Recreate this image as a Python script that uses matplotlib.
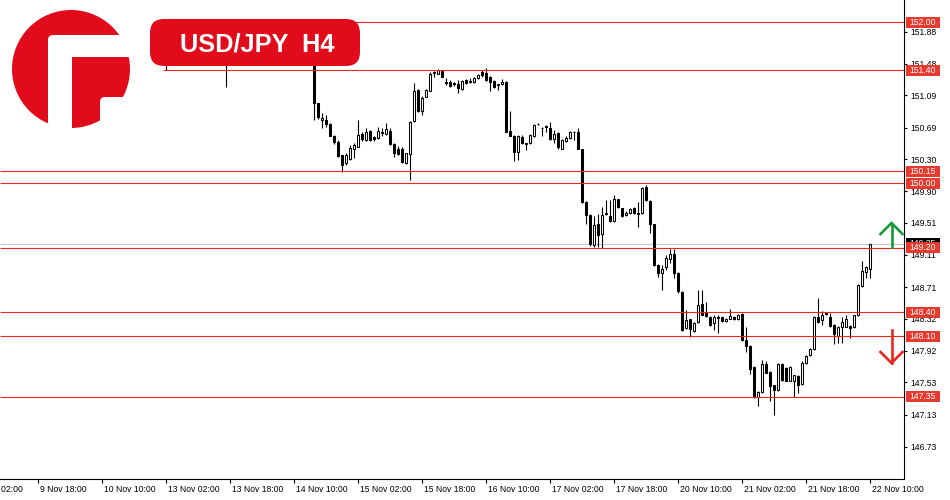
import numpy as np
import matplotlib
matplotlib.use("Agg")
import matplotlib.pyplot as plt
from matplotlib import transforms
from matplotlib.patches import Rectangle, Circle, FancyBboxPatch
from matplotlib.lines import Line2D

plt.rcParams['font.family'] = ['Liberation Sans', 'DejaVu Sans']

# ---------------- data (H1 bars, index 0 = first fully visible bar) ----------------
opens = [151.47, 150.99, 150.78, 150.79, 150.74, 150.59, 150.51, 150.35, 150.25, 150.30,
         150.42, 150.45, 150.61, 150.54, 150.65, 150.57, 150.56, 150.64, 150.61, 150.65,
         150.49, 150.43, 150.42, 150.25, 150.36, 150.77, 151.16, 150.90, 151.07, 151.15,
         151.37, 151.36, 151.39, 151.26, 151.26, 151.24, 151.23, 151.17, 151.28, 151.26,
         151.25, 151.30, 151.38, 151.37, 151.32, 151.27, 151.22, 151.23, 151.25, 150.65,
         150.59, 150.39, 150.57, 150.50, 150.50, 150.59, 150.73, 150.69, 150.71, 150.68,
         150.55, 150.62, 150.43, 150.52, 150.56, 150.63, 150.64, 150.42, 149.77, 149.61,
         149.23, 149.49, 149.37, 149.62, 149.59, 149.53, 149.80, 149.69, 149.60, 149.63,
         149.69, 149.63, 149.63, 149.95, 149.78, 149.49, 148.99, 148.88, 148.96, 149.06,
         149.12, 148.89, 148.65, 148.20, 148.31, 148.17, 148.28, 148.50, 148.40, 148.34,
         148.26, 148.34, 148.34, 148.29, 148.32, 148.34, 148.31, 148.38, 148.05, 147.98,
         147.72, 147.35, 147.41, 147.76, 147.66, 147.50, 147.43, 147.76, 147.71, 147.55,
         147.54, 147.61, 147.51, 147.77, 147.87, 147.94, 148.34, 148.30, 148.38, 148.34,
         148.24, 148.10, 148.22, 148.22, 148.23, 148.21, 148.36, 148.73, 148.90, 148.94]
highs = [151.53, 151.00, 150.87, 150.84, 150.75, 150.60, 150.54, 150.35, 150.37, 150.47,
         150.50, 150.78, 150.64, 150.68, 150.66, 150.58, 150.70, 150.68, 150.75, 150.68,
         150.50, 150.46, 150.45, 150.37, 150.77, 151.24, 151.17, 151.08, 151.17, 151.38,
         151.39, 151.42, 151.40, 151.30, 151.28, 151.26, 151.28, 151.28, 151.29, 151.30,
         151.32, 151.36, 151.41, 151.43, 151.33, 151.28, 151.23, 151.29, 151.27, 150.90,
         150.60, 150.60, 150.60, 150.50, 150.61, 150.73, 150.75, 150.70, 150.72, 150.76,
         150.66, 150.64, 150.55, 150.58, 150.65, 150.65, 150.69, 150.43, 149.78, 149.62,
         149.59, 149.62, 149.71, 149.79, 149.79, 149.85, 149.81, 149.69, 149.65, 149.69,
         149.70, 149.77, 149.95, 149.98, 149.79, 149.50, 149.00, 148.99, 149.11, 149.18,
         149.18, 148.90, 148.66, 148.43, 148.32, 148.28, 148.67, 148.67, 148.53, 148.35,
         148.36, 148.36, 148.34, 148.33, 148.44, 148.35, 148.38, 148.39, 148.22, 147.99,
         147.73, 147.42, 147.81, 147.79, 147.67, 147.50, 147.77, 147.77, 147.72, 147.73,
         147.62, 147.62, 147.79, 147.87, 147.95, 148.35, 148.57, 148.41, 148.40, 148.39,
         148.25, 148.23, 148.34, 148.36, 148.24, 148.37, 148.75, 149.04, 148.97, 149.25]
lows = [150.79, 150.80, 150.68, 150.70, 150.58, 150.49, 150.33, 150.14, 150.23, 150.29,
        150.31, 150.45, 150.52, 150.52, 150.52, 150.52, 150.55, 150.58, 150.60, 150.47,
        150.33, 150.35, 150.25, 150.24, 150.04, 150.76, 150.88, 150.85, 151.07, 151.14,
        151.32, 151.35, 151.32, 151.22, 151.19, 151.21, 151.12, 151.16, 151.23, 151.24,
        151.24, 151.29, 151.32, 151.27, 151.14, 151.18, 151.16, 151.22, 150.64, 150.58,
        150.27, 150.29, 150.49, 150.41, 150.49, 150.57, 150.72, 150.58, 150.64, 150.54,
        150.50, 150.42, 150.42, 150.51, 150.55, 150.54, 150.42, 149.76, 149.50, 149.22,
        149.21, 149.21, 149.20, 149.61, 149.52, 149.52, 149.69, 149.58, 149.59, 149.62,
        149.62, 149.46, 149.62, 149.78, 149.38, 148.97, 148.84, 148.67, 148.92, 149.01,
        148.82, 148.64, 148.17, 148.19, 148.09, 148.16, 148.27, 148.36, 148.34, 148.23,
        148.18, 148.14, 148.28, 148.28, 148.31, 148.30, 148.30, 148.04, 147.91, 147.63,
        147.34, 147.23, 147.40, 147.64, 147.30, 147.12, 147.42, 147.55, 147.54, 147.54,
        147.35, 147.40, 147.50, 147.76, 147.86, 147.93, 148.27, 148.24, 148.37, 148.22,
        148.01, 148.02, 148.02, 148.21, 148.08, 148.20, 148.35, 148.71, 148.83, 148.83]
closes = [151.00, 150.82, 150.81, 150.73, 150.59, 150.51, 150.34, 150.23, 150.35, 150.44,
          150.47, 150.60, 150.55, 150.64, 150.54, 150.55, 150.65, 150.62, 150.67, 150.49,
          150.38, 150.36, 150.26, 150.37, 150.76, 151.14, 150.89, 151.06, 151.16, 151.36,
          151.38, 151.40, 151.32, 151.24, 151.20, 151.23, 151.18, 151.27, 151.24, 151.27,
          151.30, 151.34, 151.34, 151.28, 151.26, 151.19, 151.23, 151.26, 150.64, 150.59,
          150.39, 150.59, 150.50, 150.49, 150.60, 150.72, 150.74, 150.68, 150.70, 150.55,
          150.61, 150.45, 150.54, 150.56, 150.63, 150.64, 150.43, 149.77, 149.60, 149.25,
          149.48, 149.36, 149.61, 149.63, 149.53, 149.80, 149.70, 149.59, 149.63, 149.68,
          149.63, 149.62, 149.94, 149.79, 149.50, 148.99, 148.89, 148.93, 149.07, 149.12,
          148.89, 148.66, 148.18, 148.30, 148.19, 148.27, 148.49, 148.37, 148.35, 148.24,
          148.34, 148.33, 148.29, 148.32, 148.35, 148.31, 148.36, 148.05, 147.98, 147.70,
          147.35, 147.41, 147.76, 147.65, 147.48, 147.43, 147.76, 147.56, 147.55, 147.72,
          147.62, 147.50, 147.77, 147.86, 147.94, 148.34, 148.28, 148.36, 148.39, 148.23,
          148.13, 148.22, 148.28, 148.32, 148.20, 148.36, 148.74, 148.91, 148.96, 149.25]
bar_index = list(range(len(opens)))

# two earlier bars whose wicks peek out below the title box
early_index = [-37, -22]
early_open = [151.62, 151.55]
early_high = [151.70, 151.66]
early_low = [151.40, 151.19]
early_close = [151.50, 151.60]

levels = [152.00, 151.40, 150.15, 150.00, 149.20, 148.40, 148.10, 147.35]
level_labels = ["152.00", "151.40", "150.15", "150.00", "149.20", "148.40", "148.10", "147.35"]
bid_price = 149.25
bid_label = "149.25"

ytick_labels = ["151.88", "151.48", "151.09", "150.69", "150.30", "149.90", "149.51",
                "149.11", "148.71", "148.32", "147.92", "147.53", "147.13", "146.73"]
xtick_bars = [-69, -53, -37, -21, -5, 11, 27, 43, 59, 75, 91, 107, 123, 139]
xtick_labels = ["9 Nov 18:00", "10 Nov 10:00", "13 Nov 02:00", "13 Nov 18:00",
                "14 Nov 10:00", "15 Nov 02:00", "15 Nov 18:00", "16 Nov 10:00",
                "17 Nov 02:00", "17 Nov 18:00", "20 Nov 10:00", "21 Nov 02:00",
                "21 Nov 18:00", "22 Nov 10:00"]
first_tick_bar = -85
first_tick_label = "9 Nov 02:00"

# ---------------- styling ----------------
W_PX, H_PX = 950, 500
LINE_RED = '#e8281e'
LABEL_RED = '#e63a2e'
LOGO_RED = '#e20b1b'
GREEN = '#159a36'

fig = plt.figure(figsize=(9.5, 5), dpi=100)
fig.patch.set_facecolor('white')
ax = fig.add_axes([0, 21 / H_PX, 904 / W_PX, 479 / H_PX])
X0, X1 = -78.5, 147.5
Y0, Y1 = 146.33, 152.273
ax.set_xlim(X0, X1)
ax.set_ylim(Y0, Y1)
px_per_price = 479 / (Y1 - Y0)

for s in ['top', 'left']:
    ax.spines[s].set_visible(False)
for s in ['right', 'bottom']:
    ax.spines[s].set_linewidth(0.8)
    ax.spines[s].set_color('black')

# candles
BW = 0.58
def draw_candles(idx, o_, h_, l_, c_):
    for i, o, h, l, c in zip(idx, o_, h_, l_, c_):
        ax.vlines(i, l, h, color='black', lw=0.8, zorder=3)
        up = c >= o
        bottom = min(o, c)
        height = max(abs(c - o), 0.004)
        ax.add_patch(Rectangle((i - BW / 2, bottom), BW, height,
                               fc='white' if up else 'black', ec='black',
                               lw=0.75, zorder=4))

draw_candles(early_index, early_open, early_high, early_low, early_close)
draw_candles(bar_index, opens, highs, lows, closes)

# bid line
ax.hlines(bid_price, X0, X1, color='#c4c4c4', lw=0.8, zorder=2)

# horizontal levels
for lv in levels:
    start = X0
    if lv == 152.00:
        start = -40.25
    elif lv == 151.40:
        start = -37.75
    ax.hlines(lv, start, X1, color=LINE_RED, lw=0.8, zorder=5)

# axis ticks
ax.yaxis.tick_right()
ax.set_yticks([float(s) for s in ytick_labels])
ax.set_yticklabels(ytick_labels, fontsize=6.2)
ax.tick_params(axis='y', length=2.3, width=0.8, pad=2.0, direction='out')
ax.set_xticks(xtick_bars)
ax.set_xticklabels(xtick_labels, fontsize=6.2, ha='left')
ax.tick_params(axis='x', length=3, width=0.8, pad=1.6, direction='out')
shift = transforms.ScaledTranslation(2 / 100, 0, fig.dpi_scale_trans)
for lbl in ax.get_xticklabels():
    lbl.set_transform(lbl.get_transform() + shift)
ax.annotate(first_tick_label, xy=(first_tick_bar, 0), xycoords=('data', 'axes fraction'),
            xytext=(1.4, -4.6), textcoords='offset points', ha='left', va='top',
            fontsize=6.2, annotation_clip=False)

# price labels on the right
trans = transforms.blended_transform_factory(fig.transFigure, ax.transData)
lab_h = 11 / px_per_price
def price_label(price, text, color, z):
    r = Rectangle((906 / W_PX, price - lab_h / 2), 34 / W_PX, lab_h, transform=trans,
                  fc=color, ec='none', zorder=z, clip_on=False)
    fig.add_artist(r)
    fig.text(923 / W_PX, price, text, transform=trans, ha='center', va='center',
             color='white', fontsize=6.2, zorder=z + 0.5)

price_label(bid_price, bid_label, 'black', 20)
for lv, lb in zip(levels, level_labels):
    price_label(lv, lb, LABEL_RED, 22)

# pixel transform (origin top-left)
T = transforms.Affine2D().scale(1 / W_PX, -1 / H_PX).translate(0, 1) + fig.transFigure

# arrows
fig.add_artist(Line2D([891.5, 891.5], [247, 223.5], transform=T, color=GREEN, lw=1.9, zorder=30))
fig.add_artist(Line2D([880.5, 891.5, 902.5], [234, 223, 234], transform=T, color=GREEN, lw=1.9,
                      solid_joinstyle='miter', zorder=30))
fig.add_artist(Line2D([891.5, 891.5], [330, 362.5], transform=T, color=LINE_RED, lw=1.9, zorder=30))
fig.add_artist(Line2D([880.5, 891.5, 902.5], [352, 363, 352], transform=T, color=LINE_RED, lw=1.9,
                      solid_joinstyle='miter', zorder=30))

# logo
fig.add_artist(Circle((71, 69), 59, transform=T, fc=LOGO_RED, ec='none', zorder=40))
fig.add_artist(FancyBboxPatch((48, 35), 24, 110, boxstyle="round,pad=0,rounding_size=5",
                              transform=T, fc='white', ec='none', zorder=41))
fig.add_artist(Rectangle((56, 35), 84, 22, transform=T, fc='white', ec='none', zorder=41))
fig.add_artist(FancyBboxPatch((100, 97), 45, 45, boxstyle="round,pad=0,rounding_size=5",
                              transform=T, fc='white', ec='none', zorder=41))

# title box
fig.add_artist(FancyBboxPatch((150, 19), 210, 47, boxstyle="round,pad=0,rounding_size=14",
                              transform=T, fc=LOGO_RED, ec='none', zorder=40))
fig.text(257.5 / W_PX, 1 - 51.7 / H_PX, "USD/JPY  H4", color='white', fontsize=18.3,
         fontweight='bold', ha='center', va='baseline', zorder=42)

fig.savefig('out.png', dpi=100, facecolor='white')
